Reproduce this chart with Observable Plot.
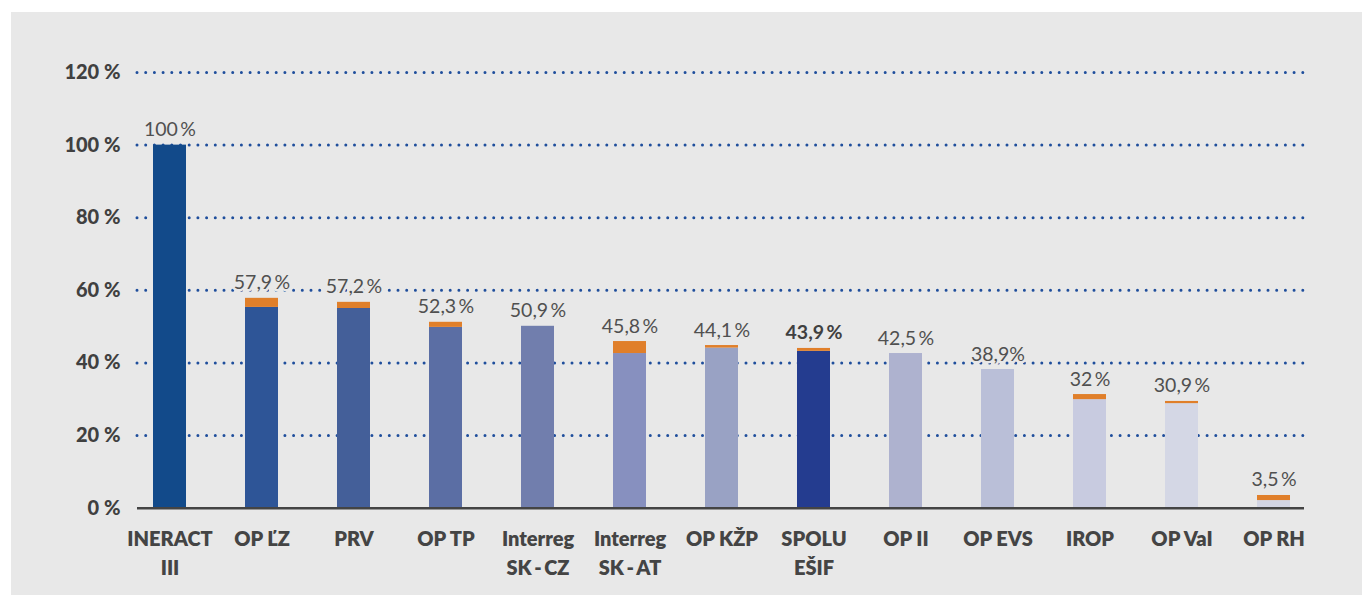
<!DOCTYPE html>
<html>
<head>
<meta charset="utf-8">
<script src="https://cdn.jsdelivr.net/npm/d3@7"></script>
<script src="https://cdn.jsdelivr.net/npm/@observablehq/plot@0.6"></script>
<style>
  html, body { margin: 0; padding: 0; background: #ffffff; }
  #panel { position: absolute; left: 11px; top: 12px; width: 1351px; height: 583px; background: #e8e8e8; overflow: hidden; }
</style>
</head>
<body>
<div id="panel"></div>
<script>
// ---- data ----
const categories = ["INERACT\nIII", "OP ĽZ", "PRV", "OP TP", "Interreg\nSK\u2009-\u2009CZ", "Interreg\nSK\u2009-\u2009AT", "OP KŽP", "SPOLU\nEŠIF", "OP II", "OP EVS", "IROP", "OP VaI", "OP RH"];
const baseValues = [100, 55.3, 55.0, 49.8, 50.1, 42.6, 44.1, 43.2, 42.6, 38.2, 29.9, 28.8, 2.1];
const topValues  = [0, 2.5, 1.7, 1.4, 0, 3.3, 0.7, 0.8, 0, 0, 1.4, 0.6, 1.4];
const valueLabels = ["100\u2009%", "57,9\u2009%", "57,2\u2009%", "52,3\u2009%", "50,9\u2009%", "45,8\u2009%", "44,1\u2009%", "43,9\u2009%", "42,5\u2009%", "38,9%", "32\u2009%", "30,9\u2009%", "3,5\u2009%"];
const yTicks = [0, 20, 40, 60, 80, 100, 120];
const yTickLabels = ["0 %", "20 %", "40 %", "60 %", "80 %", "100 %", "120 %"];
const highlight = "SPOLU\nEŠIF";

// ---- styles ----
const barColors = ["#124a8a", "#2e5597", "#445f99", "#5b6ea4", "#717ead", "#8790bf", "#99a2c4", "#243c8f", "#aeb2cf", "#babfd8", "#c8cbe0", "#d4d7e5", "#d2d5e4"];
const orange = "#e07f2a";
const panelBg = "#e8e8e8";

const colorOf = new Map(categories.map((c, i) => [c, barColors[i]]));
const rows = [];
categories.forEach((c, i) => {
  rows.push({cat: c, part: "base", value: baseValues[i], fill: colorOf.get(c)});
  rows.push({cat: c, part: "top", value: topValues[i], fill: orange});
});
const labelRows = categories.map((c, i) => ({cat: c, total: baseValues[i] + topValues[i], label: valueLabels[i]}));
const tickText = new Map(yTicks.map((t, i) => [t, yTickLabels[i]]));

const chart = Plot.plot({
  width: 1351,
  height: 583,
  marginTop: 60,
  marginBottom: 87.3,
  marginLeft: 126,
  marginRight: 52,
  style: {background: "transparent", fontFamily: "Lato, 'Open Sans', sans-serif"},
  x: {type: "band", domain: categories, paddingInner: 0.643, paddingOuter: 0.162, align: 0.45, axis: null},
  y: {domain: [0, 120], axis: null},
  color: {type: "identity"},
  marks: [
    Plot.ruleY(yTicks.filter(t => t > 0), {stroke: "#1f4e9c", strokeWidth: 3, strokeDasharray: "0 8.7", strokeLinecap: "round"}),
    Plot.barY(rows, {x: "cat", y: "value", fill: "fill", inset: 0}),
    Plot.ruleY([0], {stroke: "#444444", strokeWidth: 2.5, insetRight: 6}),
    Plot.axisY({ticks: yTicks, tickFormat: d => tickText.get(d), tickSize: 0, tickPadding: 17, fontSize: 20, fontWeight: 900, fill: "#404040", label: null, letterSpacing: "1.2px"}),
    Plot.text(categories, {x: d => d, frameAnchor: "bottom", dy: 17, lineAnchor: "top", lineHeight: 1.45, fontSize: 20, fontWeight: 800, fill: "#444444"}),
    Plot.text(labelRows.filter(d => d.cat !== highlight), {x: "cat", y: "total", text: "label", dy: -9, lineAnchor: "bottom", fontSize: 19.5, fill: "#505050", stroke: panelBg, strokeWidth: 5, paintOrder: "stroke"}),
    Plot.text(labelRows.filter(d => d.cat === highlight), {x: "cat", y: "total", text: "label", dy: -9, lineAnchor: "bottom", fontSize: 19.5, fontWeight: 700, fill: "#404040", stroke: panelBg, strokeWidth: 5, paintOrder: "stroke"})
  ]
});
document.getElementById("panel").appendChild(chart);
</script>
</body>
</html>
